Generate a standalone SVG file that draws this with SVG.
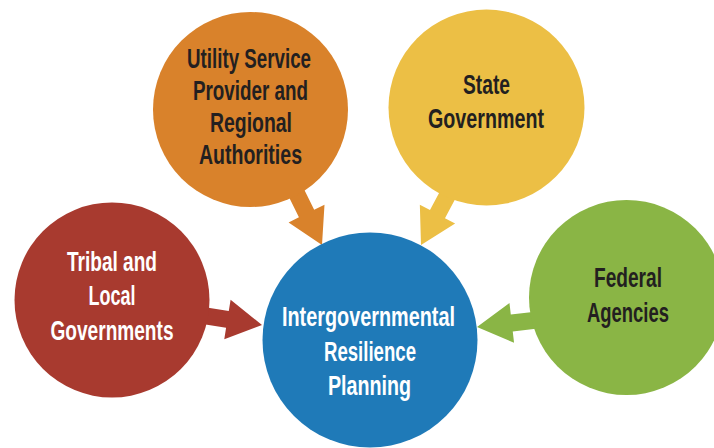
<svg xmlns="http://www.w3.org/2000/svg" width="714" height="448" viewBox="0 0 714 448">
<style>
text{font-family:"Liberation Sans",Arial,sans-serif;font-weight:bold;font-size:27px;text-anchor:middle}
.w{fill:#ffffff}
.d{fill:#231f20}
</style>
<defs>
<polygon id="arr" points="0,0 -35,-20 -35,-8.5 -75,-8.5 -75,8.5 -35,8.5 -35,20"/>
</defs>
<rect width="714" height="448" fill="#ffffff"/>
<g id="connectors">
<use href="#arr" fill="#a83a2f" transform="translate(262,325) rotate(9.1)"/>
<use href="#arr" fill="#d9822b" transform="translate(322,245) rotate(63.8)"/>
<use href="#arr" fill="#ecbf45" transform="translate(421,245) rotate(118.1)"/>
<use href="#arr" fill="#8ab545" transform="translate(477,327) rotate(173.4)"/>
</g>
<g id="tribal">
<circle cx="112" cy="300" r="97.5" fill="#a83a2f"/>
<text class="w" x="112" y="271" textLength="90" lengthAdjust="spacingAndGlyphs">Tribal and</text>
<text class="w" x="112" y="305" textLength="47" lengthAdjust="spacingAndGlyphs">Local</text>
<text class="w" x="112" y="340" textLength="123" lengthAdjust="spacingAndGlyphs">Governments</text>
</g>
<g id="utility">
<circle cx="250.5" cy="109.5" r="97.5" fill="#d9822b"/>
<text class="d" x="249" y="68" textLength="124" lengthAdjust="spacingAndGlyphs">Utility Service</text>
<text class="d" x="250.5" y="100" textLength="115" lengthAdjust="spacingAndGlyphs">Provider and</text>
<text class="d" x="251" y="132" textLength="82" lengthAdjust="spacingAndGlyphs">Regional</text>
<text class="d" x="250.5" y="164" textLength="103" lengthAdjust="spacingAndGlyphs">Authorities</text>
</g>
<g id="state">
<circle cx="486.5" cy="107.5" r="98" fill="#ecbf45"/>
<text class="d" x="486.5" y="94" textLength="47" lengthAdjust="spacingAndGlyphs">State</text>
<text class="d" x="486" y="128" textLength="116" lengthAdjust="spacingAndGlyphs">Government</text>
</g>
<g id="federal">
<circle cx="626.5" cy="297.5" r="97.5" fill="#8ab545"/>
<text class="d" x="628" y="287" textLength="68" lengthAdjust="spacingAndGlyphs">Federal</text>
<text class="d" x="628" y="322" textLength="82" lengthAdjust="spacingAndGlyphs">Agencies</text>
</g>
<g id="intergovernmental">
<circle cx="370" cy="340" r="107.5" fill="#1f7ab8"/>
<text class="w" x="368.5" y="326" textLength="173" lengthAdjust="spacingAndGlyphs">Intergovernmental</text>
<text class="w" x="370" y="360.5" textLength="92" lengthAdjust="spacingAndGlyphs">Resilience</text>
<text class="w" x="369.5" y="395" textLength="83" lengthAdjust="spacingAndGlyphs">Planning</text>
</g>
</svg>
